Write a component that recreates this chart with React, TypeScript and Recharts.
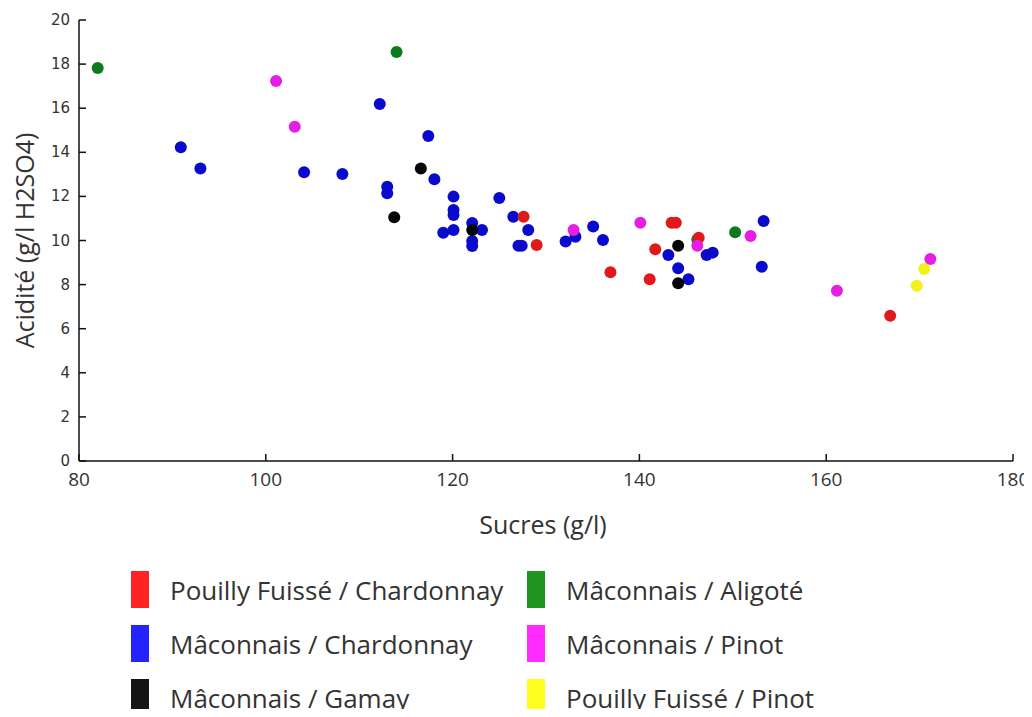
import React from 'react';
import { ScatterChart, Scatter, XAxis, YAxis } from 'recharts';

// Sucres (g/l) vs Acidité (g/l H2SO4)
const pouillyChardonnay = [
  { x: 127.6, y: 11.08 }, { x: 129.0, y: 9.8 }, { x: 136.9, y: 8.56 }, { x: 141.1, y: 8.24 },
  { x: 141.7, y: 9.6 }, { x: 143.45, y: 10.81 }, { x: 143.9, y: 10.81 }, { x: 146.35, y: 10.12 },
  { x: 166.85, y: 6.59 },
];
const maconnaisChardonnay = [
  { x: 90.9, y: 14.23 }, { x: 93.0, y: 13.27 }, { x: 104.1, y: 13.09 }, { x: 108.2, y: 13.02 },
  { x: 112.2, y: 16.19 }, { x: 113.0, y: 12.44 }, { x: 113.0, y: 12.14 }, { x: 117.4, y: 14.74 },
  { x: 118.05, y: 12.78 }, { x: 120.1, y: 11.99 }, { x: 120.1, y: 11.38 }, { x: 120.1, y: 11.16 },
  { x: 119.0, y: 10.35 }, { x: 120.1, y: 10.48 }, { x: 122.1, y: 10.79 }, { x: 122.1, y: 9.98 },
  { x: 122.1, y: 9.75 }, { x: 123.15, y: 10.48 }, { x: 125.0, y: 11.93 }, { x: 126.5, y: 11.08 },
  { x: 128.1, y: 10.48 }, { x: 127.05, y: 9.76 }, { x: 127.4, y: 9.76 }, { x: 132.1, y: 9.95 },
  { x: 133.15, y: 10.17 }, { x: 135.05, y: 10.63 }, { x: 136.1, y: 10.02 }, { x: 143.1, y: 9.34 },
  { x: 144.15, y: 8.74 }, { x: 145.25, y: 8.24 }, { x: 147.2, y: 9.34 }, { x: 147.85, y: 9.45 },
  { x: 153.3, y: 10.88 }, { x: 153.1, y: 8.81 },
];
const maconnaisGamay = [
  { x: 116.6, y: 13.27 }, { x: 113.75, y: 11.05 }, { x: 122.1, y: 10.48 },
  { x: 144.15, y: 9.76 }, { x: 144.15, y: 8.06 },
];
const maconnaisAligote = [
  { x: 82.0, y: 17.82 }, { x: 114.0, y: 18.55 }, { x: 150.25, y: 10.37 }, { x: 146.2, y: 10.05 },
];
const maconnaisPinot = [
  { x: 101.1, y: 17.23 }, { x: 103.1, y: 15.16 }, { x: 132.95, y: 10.48 }, { x: 140.1, y: 10.81 },
  { x: 146.2, y: 9.76 }, { x: 151.9, y: 10.2 }, { x: 161.15, y: 7.72 }, { x: 171.15, y: 9.16 },
];
const pouillyPinot = [
  { x: 169.7, y: 7.95 }, { x: 170.5, y: 8.71 },
];

const xTicks = [80, 100, 120, 140, 160, 180];
const yTicks = [0, 2, 4, 6, 8, 10, 12, 14, 16, 18, 20];

const seriesNames = [
  'Pouilly Fuissé / Chardonnay',
  'Mâconnais / Chardonnay',
  'Mâconnais / Gamay',
  'Mâconnais / Aligoté',
  'Mâconnais / Pinot',
  'Pouilly Fuissé / Pinot',
];
const dotColors = ['#e01a1a', '#0a0acc', '#050505', '#0e7a1e', '#e51ee5', '#f2f21a'];
const swatchColors = ['#ff2323', '#2323ff', '#151515', '#1f941f', '#ff2bff', '#ffff1f'];

const FONT = '"Open Sans", "DejaVu Sans", sans-serif';

const XTick = (props: any) => {
  const { x, y, payload } = props;
  return (
    <g>
      <line x1={x} y1={y} x2={x} y2={y - 7} stroke="#111" strokeWidth={1.5} />
      <text x={x} y={y + 18} textAnchor="middle" dominantBaseline="central" fontSize={19} fill="#333" fontFamily={FONT}>
        {payload.value}
      </text>
    </g>
  );
};

const YTick = (props: any) => {
  const { x, y, payload } = props;
  return (
    <g>
      <line x1={x} y1={y} x2={x + 7} y2={y} stroke="#111" strokeWidth={1.5} />
      <text x={x - 9} y={y} textAnchor="end" dominantBaseline="central" fontSize={15} fill="#333" fontFamily={'"DejaVu Sans", sans-serif'}>
        {payload.value}
      </text>
    </g>
  );
};

const Dot = (color: string) => (props: any) => {
  const { cx, cy } = props;
  return <circle cx={cx} cy={cy} r={6} fill={color} />;
};

const seriesData = [
  maconnaisAligote,
  maconnaisChardonnay,
  maconnaisGamay,
  pouillyChardonnay,
  maconnaisPinot,
  pouillyPinot,
];
const seriesIdx = [3, 1, 2, 0, 4, 5];

export default function App() {
  const legendOrder = [0, 3, 1, 4, 2, 5];
  return (
    <div style={{ width: 1024, fontFamily: FONT, position: 'relative' }}>
      <ScatterChart width={1024} height={540} margin={{ top: 12, right: 19, bottom: 0, left: 0 }}>
        <XAxis
          type="number"
          dataKey="x"
          domain={[80, 180]}
          ticks={xTicks}
          height={87}
          tickSize={0}
          tickMargin={0}
          tick={XTick}
          tickLine={false}
          axisLine={{ stroke: '#111', strokeWidth: 1.5 }}
          label={(p: any) => {
            const vb = p.viewBox;
            return (
              <text x={vb.x + vb.width / 2 - 3} y={vb.y + 63} textAnchor="middle" dominantBaseline="central" fontSize={25} fill="#333" fontFamily={FONT}>
                Sucres (g/l)
              </text>
            );
          }}
        />
        <YAxis
          type="number"
          dataKey="y"
          domain={[0, 20]}
          ticks={yTicks}
          width={71}
          tickSize={0}
          tickMargin={0}
          tick={YTick}
          tickLine={false}
          axisLine={{ stroke: '#111', strokeWidth: 1.5 }}
          label={(p: any) => {
            const vb = p.viewBox;
            const cx = vb.x + 16;
            const cy = vb.y + vb.height / 2;
            return (
              <text x={cx} y={cy} transform={`rotate(-90, ${cx}, ${cy})`} textAnchor="middle" dominantBaseline="central" fontSize={25} fill="#333" fontFamily={FONT}>
                Acidité (g/l H2SO4)
              </text>
            );
          }}
        />
        {seriesData.map((d, i) => (
          <Scatter
            key={seriesNames[seriesIdx[i]]}
            name={seriesNames[seriesIdx[i]]}
            data={d}
            fill={dotColors[seriesIdx[i]]}
            shape={Dot(dotColors[seriesIdx[i]])}
            isAnimationActive={false}
          />
        ))}
      </ScatterChart>
      <div style={{ position: 'relative', height: 161 }}>
        {legendOrder.map((si, k) => {
          const col = k % 2;
          const row = Math.floor(k / 2);
          return (
            <div
              key={si}
              style={{
                position: 'absolute',
                left: col === 0 ? 123 : 519,
                top: 23 + row * 54,
                height: 37,
                display: 'flex',
                alignItems: 'center',
                whiteSpace: 'nowrap',
              }}
            >
              <div style={{ width: 18, height: 37, background: swatchColors[si], marginRight: 21 }} />
              <span style={{ fontSize: 26, lineHeight: '30px', color: '#333', fontFamily: FONT }}>{seriesNames[si]}</span>
            </div>
          );
        })}
      </div>
    </div>
  );
}
